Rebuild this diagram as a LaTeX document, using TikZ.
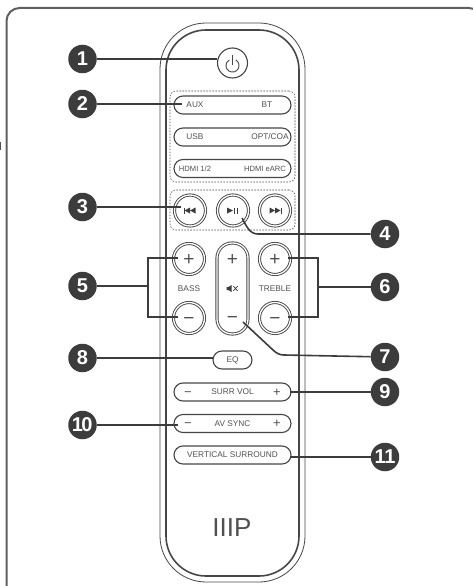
\documentclass[tikz,border=0pt]{standalone}
\usepackage{fontspec}
\setmainfont{Liberation Sans}
\usepackage{tikz}
\usetikzlibrary{shapes,positioning}
\definecolor{rcdark}{RGB}{60,60,60}
\definecolor{rcline}{RGB}{70,70,70}
\definecolor{rcframe}{RGB}{95,95,95}
\definecolor{rctext}{RGB}{80,80,80}
\tikzstyle{callout} = [circle, fill=rcdark, text=white, inner sep=0pt, minimum size=28.5pt, font=\fontsize{20}{22}\selectfont\bfseries]
\tikzstyle{leader} = [line width=1.6pt, color=rcdark]
\tikzstyle{shell} = [rectangle, draw=rcline, inner sep=0pt]
\tikzstyle{pill} = [rectangle, rounded corners=9pt, draw=rcline, line width=1.15pt, inner sep=0pt, minimum width=117pt, minimum height=18pt]
\tikzstyle{roundkey} = [circle, draw=rcline, line width=0.9pt, double=white, double distance=1.3pt, inner sep=0pt, minimum size=31pt]
\tikzstyle{dashbox} = [rectangle, rounded corners=6pt, draw=rcline, line width=0.55pt, dash pattern=on 1.6pt off 1.4pt, inner sep=0pt, minimum width=125pt]
\tikzstyle{keytext} = [inner sep=0pt, text=rctext, font=\fontsize{8.3}{10}\selectfont]
\tikzstyle{smalltext} = [inner sep=0pt, text=rctext, font=\fontsize{7.6}{10}\selectfont]
\tikzstyle{bigmark} = [inner sep=0pt, text=rctext, text height=12.5pt, text depth=0pt, font=\fontsize{19}{20}\selectfont]
\tikzstyle{smallmark} = [inner sep=0pt, text=rctext, text height=8.6pt, text depth=0pt, font=\fontsize{13}{14}\selectfont]
\begin{document}
\begin{tikzpicture}[x=1pt, y=-1pt]
\clip (0,0) rectangle (473,586);
% Frame
\draw[rcframe, line width=2pt, rounded corners=13pt] (6.5,8) rectangle (482,598);
\fill[rctext] (0,142) rectangle (1,150);

% Remote body
\node (body) [shell, line width=0.8pt, rounded corners=46pt, minimum width=145pt, minimum height=559pt] at (232.5,302.5) {};
\node (bodyinner) [shell, line width=1.6pt, rounded corners=40pt, minimum width=133pt, minimum height=546pt] at (232.5,303) {};

% Power
\node (power) [circle, draw=rcline, line width=1.1pt, inner sep=0pt, minimum size=30pt] at (232.5,63) {};
\begin{scope}[shift={(power.center)}]
\draw[rcline, line width=0.9pt] (3.25,-3.1) arc[start angle=60, end angle=-240, radius=6.5pt];
\draw[rcline, line width=0.9pt] (0,-8) -- (0,2);
\end{scope}

% Input keys
\node (inputgroup) [dashbox, minimum height=91pt] at (232.5,136.5) {};
\node (auxbt) [pill] at (232.5,105) {};
\node (usbopt) [pill, below of=auxbt, node distance=32pt] {};
\node (hdmikey) [pill, below of=usbopt, node distance=31.5pt] {};
\node (auxtext) [keytext, left of=auxbt, node distance=37.5pt] {AUX};
\node (bttext) [keytext, right of=auxbt, node distance=34.5pt] {BT};
\node (usbtext) [keytext, left of=usbopt, node distance=37.5pt] {USB};
\node (opttext) [keytext, right of=usbopt, node distance=37.5pt] {OPT/COA};
\node (hdmitext) [smalltext, left of=hdmikey, node distance=37.5pt] {HDMI 1/2};
\node (earctext) [smalltext, right of=hdmikey, node distance=32.5pt] {HDMI eARC};

% Transport keys
\node (transport) [dashbox, minimum height=40pt] at (232.5,210) {};
\node (prev) [roundkey] at (190,210.5) {};
\node (play) [roundkey, right of=prev, node distance=43pt] {};
\node (next) [roundkey, right of=play, node distance=42pt] {};
\begin{scope}[shift={(prev.center)}]
\fill[rcdark] (-6.5,-3) rectangle (-5.5,3);
\fill[rcdark] (-5.5,0) -- (0,-3) -- (0,3) -- cycle;
\fill[rcdark] (0,0) -- (5.5,-3) -- (5.5,3) -- cycle;
\end{scope}
\begin{scope}[shift={(play.center)}]
\fill[rcdark] (-6,-3) -- (0,0) -- (-6,3) -- cycle;
\fill[rcdark] (1,-3) rectangle (2,3);
\fill[rcdark] (3.5,-3) rectangle (4.5,3);
\end{scope}
\begin{scope}[shift={(next.center)}]
\fill[rcdark] (-5.5,-3) -- (0,0) -- (-5.5,3) -- cycle;
\fill[rcdark] (0,-3) -- (5.5,0) -- (0,3) -- cycle;
\fill[rcdark] (5.5,-3) rectangle (6.5,3);
\end{scope}

% Bass, volume, treble
\node (bassup) [roundkey] at (189,259) {};
\node (bassdown) [roundkey, below of=bassup, node distance=59pt] {};
\node (trebleup) [roundkey] at (275,259) {};
\node (trebledown) [roundkey, below of=trebleup, node distance=59pt] {};
\node (volume) [rectangle, rounded corners=15pt, draw=rcline, line width=0.9pt, double=white, double distance=1.3pt, inner sep=0pt, minimum width=31pt, minimum height=91pt] at (232.5,288.5) {};
\node (bassplus) [bigmark] at (bassup) {+};
\node (bassminus) [bigmark] at (bassdown) {−};
\node (trebleplus) [bigmark] at (trebleup) {+};
\node (trebleminus) [bigmark] at (trebledown) {−};
\node (volplus) [bigmark, above of=volume, node distance=29.5pt] {+};
\node (volminus) [bigmark, below of=volume, node distance=29pt] {−};
\node (basstext) [keytext, below of=bassup, node distance=29.5pt] {BASS};
\node (trebletext) [keytext, below of=trebleup, node distance=29.5pt] {TREBLE};
\begin{scope}[shift={(volume.center)}]
\fill[rcdark] (-6,-1.5) -- (-4,-1.5) -- (-1,-3.5) -- (-1,3.5) -- (-4,1.5) -- (-6,1.5) -- cycle;
\draw[rcdark, line width=0.7pt] (0.8,-2.3) -- (5.2,2.3) (0.8,2.3) -- (5.2,-2.3);
\end{scope}

% Lower keys
\node (eq) [pill, rounded corners=9pt, minimum width=39pt] at (232.5,360) {};
\node (eqtext) [keytext] at (eq) {EQ};
\node (surrvol) [pill] at (232.5,392) {};
\node (avsync) [pill, below of=surrvol, node distance=31.5pt] {};
\node (vertical) [pill, below of=avsync, node distance=31.5pt] {};
\node (surrtext) [keytext] at (surrvol) {SURR VOL};
\node (surrminus) [smallmark, left of=surrvol, node distance=44.5pt] {−};
\node (surrplus) [smallmark, right of=surrvol, node distance=44.5pt] {+};
\node (avtext) [keytext] at (avsync) {AV SYNC};
\node (avminus) [smallmark, left of=avsync, node distance=44.5pt] {−};
\node (avplus) [smallmark, right of=avsync, node distance=44.5pt] {+};
\node (verticaltext) [keytext] at (vertical) {VERTICAL SURROUND};

% Logo
\node (logo) [inner sep=0pt, text=rctext, font=\fontsize{26}{28}\selectfont] at (232,527.5) {IIIP};

% Callouts
\node (one) [callout] at (82.5,59) {1};
\node (two) [callout, below of=one, node distance=45pt] {2};
\node (three) [callout, below of=two, node distance=103pt] {3};
\node (five) [callout, below of=three, node distance=79pt] {5};
\node (eight) [callout, below of=five, node distance=72pt] {8};
\node (ten) [callout, below of=eight, node distance=67pt] {\kern-0.5pt 1\kern-1.5pt 0};
\node (four) [callout] at (385,234) {4};
\node (six) [callout, below of=four, node distance=53pt] {6};
\node (seven) [callout, below of=six, node distance=70pt] {7};
\node (nine) [callout, below of=seven, node distance=35pt] {9};
\node (eleven) [callout, below of=nine, node distance=65pt] {1\kern-1.5pt 1};

% Free ends of the leaders
\coordinate (tip2) at (182,104);
\coordinate (tip3) at (181,207);
\coordinate (tip4) at (242,218);
\coordinate (bend4) at (258,234);
\coordinate (fork5) at (148,286);
\coordinate (tip5a) at (178,258);
\coordinate (tip5b) at (178,317);
\coordinate (fork6) at (318,287);
\coordinate (tip6a) at (288,258);
\coordinate (tip6b) at (288,317);
\coordinate (tip7) at (243,322);
\coordinate (bend7a) at (273,350);
\coordinate (bend7b) at (284,355);
\coordinate (tip8) at (213,358);
\coordinate (tip9) at (290,392);
\coordinate (tip10) at (178,425);
\coordinate (tip11) at (290,457);

% Leaders
\draw[leader] (one) -- (one -| power.west);
\draw[leader] (two) -- (tip2);
\draw[leader] (three) -- (tip3);
\draw[leader] (tip4) to[out=-60,in=180] (bend4) -- (four);
\draw[leader] (five) -- (fork5);
\draw[leader] (tip5a) -| (fork5) |- (tip5b);
\draw[leader] (six) -- (fork6);
\draw[leader] (tip6a) -| (fork6) |- (tip6b);
\draw[leader] (tip7) -- (bend7a) to[out=-42,in=180] (bend7b) -- (seven);
\draw[leader] (eight) -- (tip8);
\draw[leader] (tip9) -- (nine);
\draw[leader] (ten) -- (tip10);
\draw[leader] (tip11) -- (eleven);
\end{tikzpicture}
\end{document}
